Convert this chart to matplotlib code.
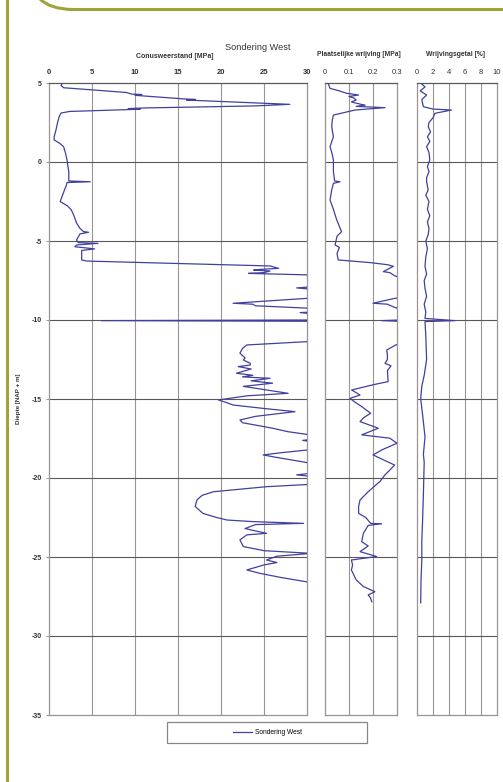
"""Sondering West: cone penetration test log (three depth panels) plus the green page frame."""

import matplotlib.pyplot as plt
from matplotlib.lines import Line2D
from matplotlib.patches import PathPatch, Rectangle
from matplotlib.path import Path

plt.rcParams["font.family"] = ["Liberation Sans", "DejaVu Sans"]

TITLE = "Sondering West"
DEPTH_LABEL = "Diepte [NAP + m]"

# Conusweerstand [MPa] against depth [NAP + m]
QC_DEPTH = [4.94, 4.85, 4.70, 4.40, 4.30, 4.27, 4.22, 4.00, 3.96, 3.92, 3.65, 3.55, 3.42, 3.38,
            3.34, 3.20, 3.10, 2.90, 2.50, 2.00, 1.60, 1.40, 1.20, 0.97, 0.60, 0.13, -0.30,
            -0.60, -1.20, -1.25, -1.30, -1.50, -1.77, -2.20, -2.50, -2.80, -3.04, -3.40,
            -3.86, -4.20, -4.40, -4.45, -4.55, -4.94, -5.10, -5.15, -5.25, -5.36, -5.50,
            -5.60, -6.00, -6.20, -6.27, -6.58, -6.73, -6.80, -6.84, -6.90, -7.00, -7.05,
            -7.15, -7.50, -7.90, -7.97, -8.05, -8.60, -8.63, -8.94, -9.00, -9.10, -9.26,
            -9.50, -9.53, -9.60, -10.00, -10.04, -10.08, -11.30, -11.37, -11.58, -11.80,
            -12.10, -12.40, -12.53, -12.74, -12.85, -12.95, -13.10, -13.37, -13.50, -13.60,
            -13.69, -13.85, -14.00, -14.20, -14.40, -14.64, -14.80, -15.06, -15.20, -15.38,
            -15.60, -15.80, -16.10, -16.33, -16.50, -16.85, -17.07, -17.28, -17.55, -17.62,
            -17.70, -18.20, -18.40, -18.54, -18.70, -19.07, -19.70, -19.80, -19.90, -20.40,
            -20.55, -20.87, -21.10, -21.39, -21.80, -22.24, -22.50, -22.66, -22.76, -22.87,
            -22.95, -23.20, -23.35, -23.50, -23.60, -23.92, -24.34, -24.60, -24.77, -24.95,
            -25.19, -25.35, -25.50, -25.82, -26.03, -26.30, -26.62]
QC_VALUE = [1.5, 1.4, 1.7, 9.0, 9.6, 10.8, 10.0, 15.5, 17.0, 16.0, 28.0, 24.0, 11.0, 9.2,
            10.6, 2.4, 1.4, 1.2, 1.0, 0.8, 0.6, 0.6, 1.2, 1.7, 1.9, 2.1, 2.2,
            2.3, 2.3, 4.8, 2.1, 2.0, 1.8, 1.5, 1.3, 2.2, 2.6, 2.9,
            3.2, 3.6, 4.0, 4.6, 3.6, 3.2, 3.4, 5.7, 3.2, 3.0, 5.3,
            3.8, 3.8, 3.8, 4.4, 25.7, 26.7, 24.5, 23.8, 25.7, 25.0, 23.2,
            30.5, 31.0, 30.5, 28.8, 30.5, 31.0, 30.0, 21.4, 23.7, 24.0, 30.5,
            30.5, 29.2, 30.5, 30.5, 6.1, 30.5, 31.0, 30.0, 23.0, 22.5,
            22.2, 22.8, 22.6, 23.4, 23.4, 22.0, 23.5, 21.8, 23.7, 22.5,
            25.7, 23.5, 26.0, 22.6, 25.0, 27.8, 23.0, 19.7, 20.5, 21.4,
            25.0, 28.6, 24.0, 22.2, 22.5, 26.0, 27.8, 30.5, 30.5, 29.5,
            30.5, 30.5, 27.0, 24.9, 26.5, 30.5, 30.5, 28.8, 30.5, 30.5,
            25.3, 19.1, 17.8, 17.2, 17.0, 17.9, 19.5, 20.7, 23.7, 29.6,
            24.0, 22.8, 24.0, 25.3, 23.0, 22.2, 22.6, 25.0, 30.5, 26.5,
            25.3, 26.5, 25.0, 23.0, 24.5, 27.0, 30.5]

# Plaatselijke wrijving [MPa]
FS_DEPTH = [4.94, 4.66, 4.50, 4.35, 4.24, 4.15, 4.05, 3.92, 3.80, 3.65, 3.60, 3.52, 3.44,
            3.29, 2.97, 2.60, 2.23, 1.60, 0.97, 0.50, 0.13, -0.60, -1.20, -1.25, -1.35,
            -1.77, -2.40, -3.00, -3.67, -4.41, -4.70, -5.25, -5.40, -5.80, -6.20, -6.37,
            -6.50, -6.60, -6.94, -7.00, -7.20, -7.30, -8.60, -8.63, -8.94, -9.00, -9.20,
            -9.30, -10.00, -10.04, -10.08, -11.50, -11.58, -11.90, -12.20, -12.50, -12.74,
            -12.90, -13.20, -13.90, -14.10, -14.43, -14.60, -14.75, -14.96, -15.20, -15.48,
            -15.90, -16.20, -16.43, -16.85, -17.27, -17.48, -17.80, -18.20, -18.54, -19.18,
            -19.50, -19.80, -20.20, -20.87, -21.39, -21.80, -22.24, -22.50, -22.87, -22.90,
            -23.00, -23.50, -24.03, -24.30, -24.66, -24.97, -25.19, -25.50, -25.82, -26.45,
            -26.87, -27.20, -27.40, -27.60, -27.83]
FS_VALUE = [0.014, 0.021, 0.060, 0.090, 0.140, 0.100, 0.120, 0.130, 0.110, 0.150, 0.167, 0.130, 0.250,
            0.125, 0.035, 0.030, 0.028, 0.035, 0.021, 0.030, 0.035, 0.035, 0.040, 0.0625, 0.035,
            0.028, 0.021, 0.035, 0.049, 0.069, 0.050, 0.042, 0.060, 0.050, 0.055, 0.190,
            0.260, 0.285, 0.243, 0.270, 0.290, 0.310, 0.310, 0.290, 0.200, 0.260, 0.290,
            0.310, 0.310, 0.236, 0.310, 0.310, 0.295, 0.257, 0.260, 0.260, 0.250,
            0.275, 0.260, 0.263, 0.200, 0.111, 0.130, 0.146, 0.104, 0.125, 0.153,
            0.190, 0.160, 0.146, 0.222, 0.153, 0.270, 0.300, 0.240, 0.200, 0.290,
            0.270, 0.250, 0.230, 0.180, 0.146, 0.140, 0.140, 0.170, 0.190, 0.236,
            0.180, 0.160, 0.153, 0.180, 0.146, 0.215, 0.110, 0.115, 0.110, 0.130,
            0.160, 0.208, 0.180, 0.190, 0.195]

# Wrijvingsgetal [%]
RF_DEPTH = [4.94, 4.75, 4.50, 4.24, 3.95, 3.50, 3.35, 3.29, 3.08, 2.80, 2.50, 2.23, 1.90,
            1.60, 1.30, 0.97, 0.60, 0.13, -0.30, -0.60, -1.00, -1.25, -1.77, -2.10, -2.50,
            -3.00, -3.40, -3.80, -4.20, -4.60, -5.00, -5.50, -6.00, -6.60, -7.10, -7.50,
            -8.00, -8.50, -9.00, -9.50, -9.90, -10.04, -10.10, -11.00, -12.50, -13.50,
            -14.20, -15.00, -16.00, -17.40, -18.50, -19.00, -21.00, -22.66, -24.00, -25.20,
            -26.50, -27.90]
RF_VALUE = [0.6, 1.0, 0.4, 1.2, 0.6, 0.8, 2.0, 4.3, 2.25, 2.0, 1.5, 1.4, 1.7,
            1.3, 1.6, 1.2, 1.5, 1.6, 1.3, 1.5, 1.2, 1.2, 1.4, 1.1, 1.5,
            1.3, 1.6, 1.3, 1.5, 1.4, 1.1, 1.3, 1.1, 1.0, 1.2, 0.9,
            1.0, 1.2, 0.9, 1.1, 1.0, 4.75, 1.0, 1.1, 1.2, 0.9,
            0.6, 0.46, 0.7, 1.0, 0.8, 0.9, 0.8, 0.7, 0.6, 0.6,
            0.5, 0.46]

QC_TICKS = [0, 5, 10, 15, 20, 25, 30]
FS_TICKS = [0, 0.1, 0.2, 0.3]
FS_TICKLABELS = ["0", "0.1", "0.2", "0.3"]
RF_TICKS = [0, 2, 4, 6, 8, 10]
DEPTH_TICKS = [5, 0, -5, -10, -15, -20, -25, -30, -35]

LINE_COLOR = "#40409e"
VGRID = "#9c9494"
HGRID = "#5c5858"
FRAME_GREEN = "#9ea33a"

W, H = 503, 782


def fx(px):
    return px / W


def fy(py):
    return 1 - py / H


def setup_panel(ax, xlim, xticks, xticklabels, bold):
    ax.set_xlim(*xlim)
    ax.set_ylim(-35, 5)
    ax.xaxis.tick_top()
    ax.set_xticks(xticks)
    ax.set_xticklabels(xticklabels, fontsize=5.5, fontweight="bold" if bold else "normal",
                       color="#333333")
    ax.set_yticks(DEPTH_TICKS)
    ax.tick_params(axis="x", length=0, pad=5)
    ax.tick_params(axis="y", length=2, width=0.7, color=VGRID, pad=3)
    for xv in xticks[1:-1]:
        ax.axvline(xv, color=VGRID, lw=0.8, zorder=1)
    for yv in DEPTH_TICKS[1:-1]:
        ax.axhline(yv, color=HGRID, lw=0.8, zorder=1)
    for side in ["left", "right", "top", "bottom"]:
        ax.spines[side].set_color(VGRID)
        ax.spines[side].set_linewidth(0.9)
    ax.spines["top"].set_color(HGRID)


def draw_frame(fig):
    # left border and the rounded top edge of the page box
    fig.add_artist(Line2D([fx(7), fx(7)], [0, 1], color=FRAME_GREEN, lw=2.2))
    verts = [(fx(40), fy(-1)), (fx(50), fy(9)), (fx(72), fy(9.5)), (fx(W + 2), fy(9.5))]
    codes = [Path.MOVETO, Path.CURVE3, Path.CURVE3, Path.LINETO]
    fig.add_artist(PathPatch(Path(verts, codes), fill=False, edgecolor=FRAME_GREEN, lw=2.2,
                             transform=fig.transFigure))


def main():
    fig = plt.figure(figsize=(W / 100, H / 100), dpi=100)
    top, bottom = 83, 715
    height = (bottom - top) / H

    ax_qc = fig.add_axes([fx(49), fy(bottom), (307 - 49) / W, height])
    ax_fs = fig.add_axes([fx(325), fy(bottom), (397 - 325) / W, height])
    ax_rf = fig.add_axes([fx(417), fy(bottom), (497 - 417) / W, height])

    setup_panel(ax_qc, (0, 30), QC_TICKS, [str(t) for t in QC_TICKS], True)
    setup_panel(ax_fs, (0, 0.3), FS_TICKS, FS_TICKLABELS, False)
    setup_panel(ax_rf, (0, 10), RF_TICKS, [str(t) for t in RF_TICKS], False)

    ax_qc.set_yticklabels([str(t) for t in DEPTH_TICKS], fontsize=5.0, fontweight="bold",
                          color="#333333")
    ax_fs.set_yticklabels([])
    ax_rf.set_yticklabels([])
    ax_fs.tick_params(axis="y", length=0)
    ax_rf.tick_params(axis="y", length=0)

    line, = ax_qc.plot(QC_VALUE, QC_DEPTH, color=LINE_COLOR, lw=0.9, zorder=3)
    ax_fs.plot(FS_VALUE, FS_DEPTH, color=LINE_COLOR, lw=0.9, zorder=3)
    ax_rf.plot(RF_VALUE, RF_DEPTH, color=LINE_COLOR, lw=0.9, zorder=3)

    ax_qc.set_ylabel(DEPTH_LABEL, fontsize=4.5, fontweight="bold", color="#333333", labelpad=8)

    fig.text(fx(175), fy(56), "Conusweerstand [MPa]", ha="center", va="center",
             fontsize=5.0, fontweight="bold", color="#333333")
    fig.text(fx(258), fy(47), TITLE, ha="center", va="center", fontsize=6.6, color="#333333")
    fig.text(fx(359), fy(55), "Plaatselijke wrijving [MPa]", ha="center", va="center",
             fontsize=4.8, fontweight="bold", color="#333333")
    fig.text(fx(456), fy(54), "Wrijvingsgetal [%]", ha="center", va="center",
             fontsize=4.9, fontweight="bold", color="#333333")

    # legend box below the plots
    fig.add_artist(Rectangle((fx(167), fy(743)), (367 - 167) / W, 21 / H, fill=False,
                             edgecolor="#8a8585", lw=0.9, transform=fig.transFigure))
    fig.legend([line], [TITLE], loc="center", bbox_to_anchor=(fx(268), fy(732.5)),
               frameon=False, fontsize=4.8, handlelength=2.8, handletextpad=0.5)

    draw_frame(fig)
    fig.savefig("out.png", dpi=100)
    plt.close(fig)


if __name__ == "__main__":
    main()
